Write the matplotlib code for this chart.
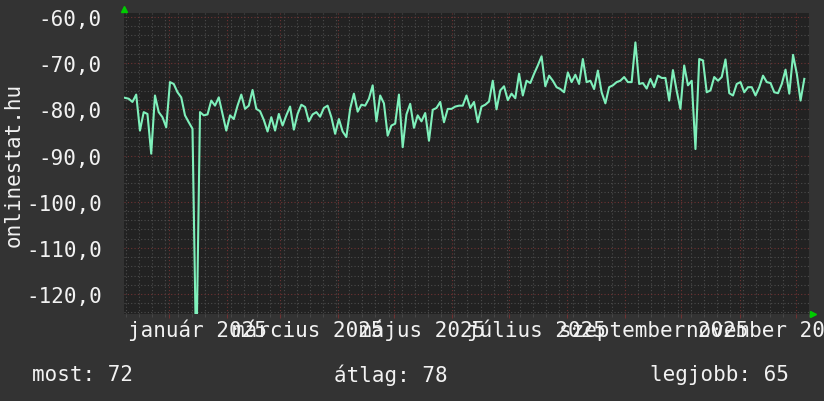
import matplotlib
matplotlib.use("Agg")
import matplotlib.pyplot as plt
import matplotlib.dates as mdates
import matplotlib.ticker as mticker
import pandas as pd

# daily-ish readings (every 2 days), dBm-like values
values = [
    -77.5, -77.7, -78.4, -76.8, -84.6, -80.6, -81.0, -89.6, -77.0, -80.6,
    -81.7, -83.9, -74.1, -74.5, -76.3, -77.4, -81.3, -82.8, -84.2, -135.0,
    -80.6, -81.3, -81.1, -78.1, -79.2, -77.4, -81.0, -84.6, -81.3, -82.1,
    -79.2, -76.8, -79.9, -79.2, -75.8, -79.9, -80.4, -82.3, -84.8, -81.7,
    -84.6, -81.0, -83.5, -81.3, -79.4, -84.4, -81.0, -79.0, -79.5, -82.6,
    -81.1, -80.6, -81.6, -79.7, -79.2, -81.7, -85.3, -82.1, -84.8, -86.0,
    -79.9, -76.6, -80.5, -79.0, -79.2, -77.7, -74.8, -82.6, -77.0, -78.7,
    -85.7, -83.5, -83.1, -76.8, -88.2, -81.1, -78.8, -84.0, -81.3, -82.6,
    -80.8, -86.8, -80.1, -79.7, -78.4, -82.8, -79.9, -79.9, -79.4, -79.2,
    -79.2, -77.0, -79.7, -78.4, -82.8, -79.4, -79.0, -78.3, -73.8, -80.0,
    -75.9, -75.0, -78.0, -76.6, -77.6, -72.3, -77.0, -73.8, -74.3, -72.3,
    -70.5, -68.5, -75.0, -72.7, -73.8, -75.2, -75.6, -76.3, -72.0, -74.1,
    -72.5, -74.5, -69.1, -74.1, -73.8, -75.6, -71.6, -76.3, -78.7, -75.2,
    -74.8, -74.1, -73.8, -73.0, -74.1, -74.1, -65.5, -74.5, -74.3, -75.5,
    -73.4, -75.2, -72.7, -73.2, -73.2, -78.1, -71.5, -76.0, -79.9, -70.5,
    -74.8, -73.8, -88.6, -69.1, -69.4, -76.3, -75.9, -73.0, -73.8, -73.0,
    -69.2, -76.5, -77.0, -74.5, -74.1, -76.3, -75.2, -75.2, -77.0, -75.2,
    -72.7, -74.1, -74.3, -76.3, -76.5, -74.5, -71.4, -76.6, -68.2, -72.3,
    -78.1, -73.4,
]
dates = pd.date_range("2024-12-08 12:00", periods=len(values), freq="2D")

month_names = ["január", "március", "május", "július", "szeptember", "november"]
label_months = [1, 3, 5, 7, 9, 11]
label_year = 2025

legend_items = [("most", 72), ("átlag", 78), ("legjobb", 65)]
ylabel = "onlinestat.hu"

W, H = 824, 402
bg = "#333333"
plot_bg = "#222222"
txt = "#f2f2f2"
line_col = "#7ff0bb"
major_col = "#6e3232"
minor_col = "#4c4c4c"

plt.rcParams["font.family"] = ["DejaVu Sans Mono"]
fig = plt.figure(figsize=(W / 100, H / 100), dpi=100, facecolor=bg)
ax = fig.add_axes([124 / W, 1 - 315 / H, (809 - 124) / W, (315 - 14) / H])
ax.set_facecolor(plot_bg)

ax.plot(dates, values, color=line_col, lw=1.5, zorder=3)

ax.set_xlim(pd.Timestamp("2024-12-08"), pd.Timestamp("2025-12-08"))
ax.set_ylim(-124.33, -59.13)

# y grid
ax.yaxis.set_major_locator(mticker.MultipleLocator(10))
ax.yaxis.set_minor_locator(mticker.MultipleLocator(2))
ax.yaxis.set_major_formatter(mticker.FuncFormatter(lambda v, p: f"{v:.1f}".replace(".", ",")))

# x grid: weeks minor, months major
ax.xaxis.set_minor_locator(mdates.WeekdayLocator(byweekday=mdates.MO))
ax.xaxis.set_major_locator(mdates.MonthLocator())
ax.xaxis.set_major_formatter(mticker.NullFormatter())

dots = (0, (1, 2))
ax.grid(which="minor", color=minor_col, ls=dots, lw=0.8, zorder=1)
ax.grid(which="major", color=major_col, ls=dots, lw=0.8, zorder=2)

ax.tick_params(axis="y", which="major", length=0, pad=16, labelsize=15, labelcolor=txt)
ax.tick_params(axis="y", which="minor", length=0)
ax.tick_params(axis="x", which="major", length=3, color=major_col, direction="out")
ax.tick_params(axis="x", which="minor", length=2, color=minor_col, direction="out")
for s in ax.spines.values():
    s.set_visible(False)

# month labels centred mid-month
for name, m in zip(month_names, label_months):
    ax.text(pd.Timestamp(label_year, m, 16), -124.33 - 3.4, f"{name} {label_year}",
            ha="center", va="center", fontsize=15, color=txt, clip_on=False)

fig.text(14 / W, 1 - 165 / H, ylabel, rotation=90, ha="center", va="center",
         fontsize=15, color=txt)

legend_x = [32, 334, 650]
for (lab, val), lx in zip(legend_items, legend_x):
    fig.text(lx / W, 1 - 375 / H, f"{lab}: {val}", ha="left", va="center",
             fontsize=15, color=txt)

# rrdtool-style arrows
fig.lines.append(plt.Line2D([124 / W], [1 - 10 / H], marker="^", color="#00cc00",
                            ms=4, transform=fig.transFigure))
fig.lines.append(plt.Line2D([813 / W], [1 - 315 / H], marker=">", color="#00cc00",
                            ms=4, transform=fig.transFigure))

fig.savefig("out.png", dpi=100, facecolor=bg)
